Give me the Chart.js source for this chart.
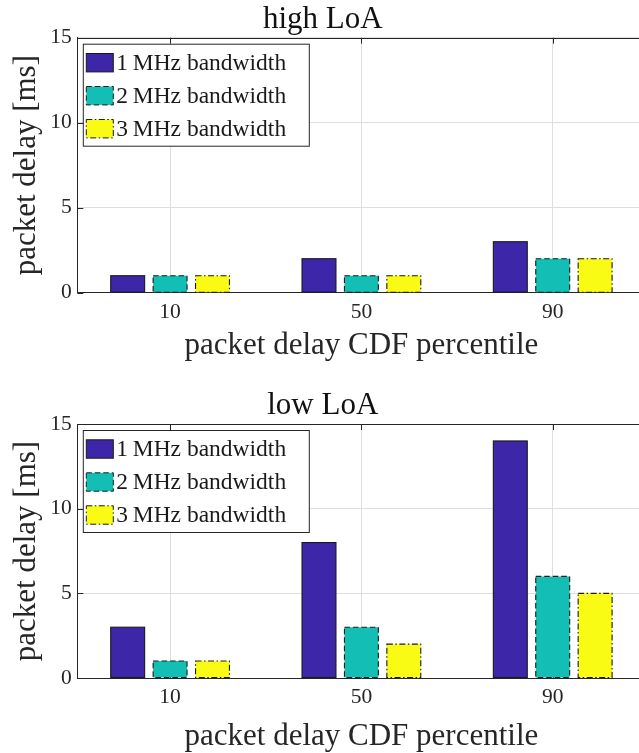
<!DOCTYPE html>
<html>
<head>
<meta charset="utf-8">
<script src="https://cdn.jsdelivr.net/npm/chart.js@4.4.1/dist/chart.umd.min.js"></script>
<style>
    html, body { margin: 0; padding: 0; background: #fff; width: 639px; height: 753px; overflow: hidden; }
    #wrap { position: relative; width: 639px; height: 753px; overflow: hidden; }
    canvas { position: absolute; left: 0; }
    #chartHigh { top: 0; }
    #chartLow { top: 386px; }
</style>
</head>
<body>
<div id="wrap">
<canvas id="chartHigh" width="660" height="367"></canvas>
<canvas id="chartLow" width="660" height="367"></canvas>
</div>
<script>
// data
const percentiles = [10, 50, 90];
const seriesLabels = ["1\u2009MHz bandwidth", "2\u2009MHz bandwidth", "3\u2009MHz bandwidth"];
const highLoA1MHz = [1, 2, 3];
const highLoA2MHz = [1, 1, 2];
const highLoA3MHz = [1, 1, 2];
const lowLoA1MHz = [3, 8, 14];
const lowLoA2MHz = [1, 3, 6];
const lowLoA3MHz = [1, 2, 5];
const yTicks = [0, 5, 10, 15];

const barColors = ["#3e26a8", "#13beb4", "#f9fb15"];
const edgeDashes = [[], [5.5, 3], [6, 2.5, 1.5, 2.5]];
const FONT = "'Liberation Serif', 'DejaVu Serif', serif";
const AXIS_COLOR = "#262626";
const GRID_COLOR = "#dedede";

// MATLAB-style extras: box top line, inward ticks, dashed bar edges, legend inside the axes
const matlabLook = {
    id: "matlabLook",
    beforeDatasetsDraw(chart) {
        const { ctx, chartArea: a, scales: { x, y } } = chart;
        ctx.save();
        ctx.strokeStyle = AXIS_COLOR;
        ctx.lineWidth = 1;
        ctx.beginPath();
        ctx.moveTo(a.left, Math.round(a.top) + 0.5);
        ctx.lineTo(a.right, Math.round(a.top) + 0.5);
        percentiles.forEach(v => {
            const px = Math.round(x.getPixelForValue(v)) + 0.5;
            ctx.moveTo(px, a.top); ctx.lineTo(px, a.top + 6);
            ctx.moveTo(px, a.bottom); ctx.lineTo(px, a.bottom - 6);
        });
        yTicks.forEach(v => {
            const py = Math.round(y.getPixelForValue(v)) + 0.5;
            ctx.moveTo(a.left, py); ctx.lineTo(a.left + 6, py);
        });
        ctx.stroke();
        ctx.restore();
    },
    afterDatasetsDraw(chart) {
        const ctx = chart.ctx;
        ctx.save();
        ctx.strokeStyle = "#1a1a1a";
        ctx.lineWidth = 1.1;
        chart.data.datasets.forEach((ds, i) => {
            ctx.setLineDash(edgeDashes[i]);
            chart.getDatasetMeta(i).data.forEach(bar => {
                const p = bar.getProps(["x", "y", "base", "width"], true);
                ctx.strokeRect(p.x - p.width / 2, p.y, p.width, p.base - p.y);
            });
        });
        ctx.restore();
    },
    afterDraw(chart) {
        const { ctx, chartArea: a } = chart;
        const left = a.left + 6, top = a.top + 6.5, w = 226, h = 102;
        ctx.save();
        ctx.fillStyle = "#fff";
        ctx.fillRect(left, top, w, h);
        ctx.strokeStyle = AXIS_COLOR;
        ctx.lineWidth = 1;
        ctx.strokeRect(left, top, w, h);
        ctx.font = "23.5px " + FONT;
        ctx.textBaseline = "middle";
        ctx.textAlign = "left";
        chart.data.datasets.forEach((ds, i) => {
            const cy = top + 18.5 + i * 33;
            ctx.fillStyle = ds.backgroundColor;
            ctx.fillRect(left + 3, cy - 9.2, 27, 18.4);
            ctx.setLineDash(edgeDashes[i]);
            ctx.strokeStyle = "#1a1a1a";
            ctx.strokeRect(left + 3, cy - 9.2, 27, 18.4);
            ctx.setLineDash([]);
            ctx.fillStyle = "#1a1a1a";
            ctx.fillText(ds.label, left + 33, cy + 1);
        });
        ctx.restore();
    }
};

function makeChart(canvasId, titleText, s1, s2, s3, geo) {
    const series = [s1, s2, s3];
    const ctx = document.getElementById(canvasId).getContext("2d");
    return new Chart(ctx, {
        type: "bar",
        data: {
            datasets: series.map((vals, i) => ({
                label: seriesLabels[i],
                data: percentiles.map((p, j) => ({ x: p, y: vals[j] })),
                backgroundColor: barColors[i],
                borderWidth: 0,
                categoryPercentage: 0.665,
                barPercentage: 0.8
            }))
        },
        options: {
            responsive: false,
            animation: false,
            devicePixelRatio: 1,
            // the axes run past the right edge of the window, as in the cropped reference
            layout: { padding: { left: 0, right: 14.5, top: 0, bottom: 0 } },
            plugins: {
                legend: { display: false },
                tooltip: { enabled: false },
                title: {
                    display: true,
                    text: titleText,
                    color: "#111",
                    font: { family: FONT, size: 31, weight: "normal", lineHeight: geo.titleLH },
                    padding: { top: geo.titlePadTop, bottom: geo.titlePadBottom }
                }
            },
            scales: {
                x: {
                    type: "linear",
                    min: -9.4,
                    max: 109.4,
                    offset: false,
                    afterBuildTicks: s => { s.ticks = percentiles.map(v => ({ value: v })); },
                    afterFit: s => { s.height = 367 - geo.plotBottom; },
                    grid: { offset: false, color: GRID_COLOR, drawTicks: false },
                    border: { color: AXIS_COLOR, width: 1 },
                    ticks: { padding: 6.5, color: AXIS_COLOR, font: { family: FONT, size: 21.5 }, callback: v => v },
                    title: {
                        display: true,
                        text: "packet delay CDF percentile",
                        color: AXIS_COLOR,
                        font: { family: FONT, size: 31, lineHeight: 1.0 },
                        padding: { top: 0, bottom: geo.xTitlePad }
                    }
                },
                y: {
                    min: 0,
                    max: 15,
                    afterBuildTicks: s => { s.ticks = yTicks.map(v => ({ value: v })); },
                    afterFit: s => { s.width = 77.3; },
                    grid: { color: GRID_COLOR, drawTicks: false },
                    border: { color: AXIS_COLOR, width: 1 },
                    ticks: { padding: 5.5, color: AXIS_COLOR, font: { family: FONT, size: 21.5 } },
                    title: {
                        display: true,
                        text: "packet delay [ms]",
                        color: AXIS_COLOR,
                        font: { family: FONT, size: 31, lineHeight: 1.2 },
                        padding: { top: 8, bottom: 0 }
                    }
                }
            }
        },
        plugins: [matlabLook]
    });
}

// the lower plot's titles sit a little lower relative to its axes in the reference
makeChart("chartHigh", "high LoA", highLoA1MHz, highLoA2MHz, highLoA3MHz,
    { titleLH: 1.1, titlePadTop: 2.5, titlePadBottom: 1.1, plotBottom: 292.7, xTitlePad: 5.7 });
makeChart("chartLow", "low LoA", lowLoA1MHz, lowLoA2MHz, lowLoA3MHz,
    { titleLH: 1.1, titlePadTop: 3, titlePadBottom: 0.9, plotBottom: 292, xTitlePad: 0.7 });
</script>
</body>
</html>
